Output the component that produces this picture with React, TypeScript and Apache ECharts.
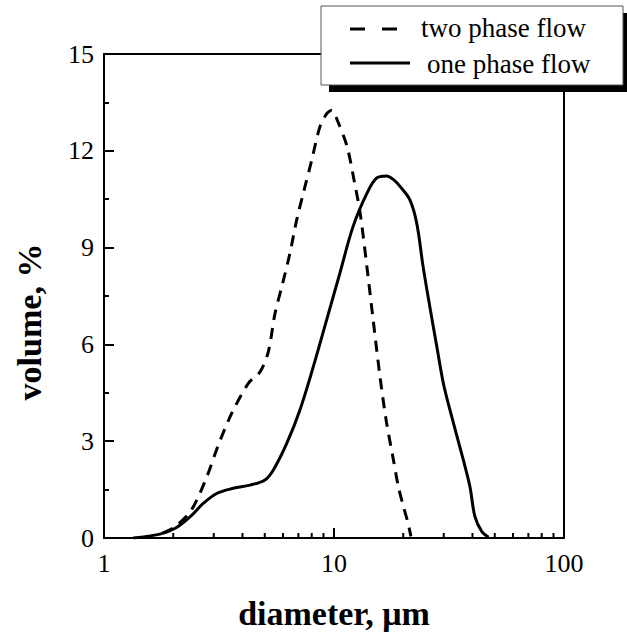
import React, { useEffect, useRef } from "react";
import * as echarts from "echarts";

const twoPhaseName = "two phase flow";
const onePhaseName = "one phase flow";

const twoPhaseD = [1.8, 2.04, 2.4, 2.8, 3.14, 3.59, 4.24, 4.77, 5.18, 5.54, 5.98, 6.43, 6.88, 7.41, 8.0, 8.69, 9.3, 9.77, 10.4, 11.4, 12.3, 13.0, 13.9, 14.8, 15.85, 16.9, 18.1, 19.05, 20.0, 21.0, 21.6];
const twoPhaseV = [0.15, 0.35, 0.87, 1.9, 2.88, 3.86, 4.79, 5.15, 5.77, 6.96, 7.89, 8.82, 9.85, 10.78, 11.71, 12.75, 13.15, 13.26, 12.9, 12.13, 10.99, 10.06, 8.41, 6.76, 5.0, 3.6, 2.45, 1.59, 1.0, 0.45, 0.05];

const onePhaseD = [1.34, 1.75, 2.04, 2.37, 2.7, 3.09, 3.65, 4.31, 5.01, 5.45, 6.23, 7.11, 8.13, 9.29, 10.6, 12.1, 13.9, 15.3, 16.9, 18.2, 19.4, 21.4, 22.9, 24.4, 26.1, 28.0, 29.9, 32.5, 36.5, 39.0, 41.0, 43.9, 47.0];
const onePhaseV = [0, 0.12, 0.3, 0.66, 1.07, 1.38, 1.54, 1.64, 1.8, 2.11, 2.93, 3.97, 5.31, 6.76, 8.2, 9.65, 10.68, 11.15, 11.22, 11.1, 10.89, 10.47, 9.75, 8.41, 7.17, 5.93, 4.79, 3.76, 2.42, 1.59, 0.66, 0.2, 0.02];

const minorX = [2, 3, 4, 5, 6, 7, 8, 9, 20, 30, 40, 50, 60, 70, 80, 90];

const xTitle = "diameter, μm";
const yTitle = "volume, %";

const FONT = "Liberation Serif";

export default function App() {
  const ref = useRef<HTMLDivElement>(null);
  useEffect(() => {
    if (!ref.current) return;
    const chart = echarts.init(ref.current, null, { renderer: "svg" });
    const axisLineStyle = { color: "#000", width: 2 };
    const option: any = {
      animation: false,
      backgroundColor: "#fff",
      textStyle: { fontFamily: FONT },
      grid: { left: 104, right: 63, top: 54, bottom: 94 },
      xAxis: [
        {
          type: "log",
          logBase: 10,
          min: 1,
          max: 100,
          position: "bottom",
          axisLine: { show: true, onZero: false, lineStyle: axisLineStyle },
          axisTick: { show: true, inside: true, length: 10, lineStyle: { color: "#000", width: 2 } },
          axisLabel: { fontFamily: FONT, fontSize: 26, color: "#000", margin: 12 },
          splitLine: { show: false },
        },
        {
          type: "log",
          logBase: 10,
          min: 1,
          max: 100,
          position: "top",
          axisLine: { show: true, onZero: false, lineStyle: axisLineStyle },
          axisTick: { show: false },
          axisLabel: { show: false },
          splitLine: { show: false },
        },
      ],
      yAxis: [
        {
          type: "value",
          min: 0,
          max: 15,
          interval: 3,
          position: "left",
          axisLine: { show: true, onZero: false, lineStyle: axisLineStyle },
          axisTick: { show: true, inside: true, length: 10, lineStyle: { color: "#000", width: 2 } },
          minorTick: { show: true, splitNumber: 2, length: 5, lineStyle: { color: "#000", width: 2 } },
          axisLabel: { fontFamily: FONT, fontSize: 26, color: "#000", margin: 10 },
          splitLine: { show: false },
        },
        {
          type: "value",
          min: 0,
          max: 15,
          interval: 3,
          position: "right",
          axisLine: { show: true, onZero: false, lineStyle: axisLineStyle },
          axisTick: { show: false },
          axisLabel: { show: false },
          splitLine: { show: false },
        },
      ],
      series: [
        {
          name: twoPhaseName,
          type: "line",
          data: twoPhaseD.map((d, i) => [d, twoPhaseV[i]]),
          showSymbol: false,
          smooth: 0.3,
          lineStyle: { color: "#000", width: 3, type: [11, 8] },
        },
        {
          name: onePhaseName,
          type: "line",
          data: onePhaseD.map((d, i) => [d, onePhaseV[i]]),
          showSymbol: false,
          smooth: 0.35,
          lineStyle: { color: "#000", width: 3, type: "solid" },
        },
        {
          type: "custom",
          silent: true,
          clip: false,
          data: minorX.map((v) => [v, 0]),
          renderItem: (params: any, api: any) => {
            const p = api.coord([api.value(0), 0]);
            return {
              type: "line",
              shape: { x1: p[0], y1: p[1], x2: p[0], y2: p[1] - 5 },
              style: { stroke: "#000", lineWidth: 2 },
            };
          },
        },
      ],
      graphic: {
        elements: [
          {
            type: "text",
            x: 29,
            y: 322,
            rotation: Math.PI / 2,
            style: {
              text: yTitle,
              fontFamily: FONT,
              fontSize: 34,
              fontWeight: "bold",
              fill: "#000",
              align: "center",
              verticalAlign: "middle",
            },
          },
          {
            type: "text",
            x: 334,
            y: 613,
            style: {
              text: xTitle,
              fontFamily: FONT,
              fontSize: 34,
              fontWeight: "bold",
              fill: "#000",
              align: "center",
              verticalAlign: "middle",
            },
          },
          {
            type: "rect",
            z: 100,
            shape: { x: 329, y: 13, width: 302, height: 79 },
            style: { fill: "#000" },
          },
          {
            type: "rect",
            z: 101,
            shape: { x: 321, y: 6, width: 302, height: 79 },
            style: { fill: "#fff", stroke: "#555", lineWidth: 1 },
          },
          {
            type: "line",
            z: 102,
            shape: { x1: 350, y1: 29, x2: 397, y2: 29 },
            style: { stroke: "#000", lineWidth: 3, lineDash: [15, 17] },
          },
          {
            type: "text",
            z: 102,
            x: 421,
            y: 28,
            style: {
              text: twoPhaseName,
              fontFamily: FONT,
              fontSize: 27,
              fill: "#000",
              align: "left",
              verticalAlign: "middle",
            },
          },
          {
            type: "line",
            z: 102,
            shape: { x1: 350, y1: 63, x2: 410, y2: 63 },
            style: { stroke: "#000", lineWidth: 3 },
          },
          {
            type: "text",
            z: 102,
            x: 427,
            y: 64,
            style: {
              text: onePhaseName,
              fontFamily: FONT,
              fontSize: 27,
              fill: "#000",
              align: "left",
              verticalAlign: "middle",
            },
          },
        ],
      },
    };
    chart.setOption(option);
    return () => chart.dispose();
  }, []);
  return (
    <div
      ref={ref}
      style={{ position: "fixed", left: 0, top: 0, width: 627, height: 632, background: "#fff" }}
    />
  );
}
